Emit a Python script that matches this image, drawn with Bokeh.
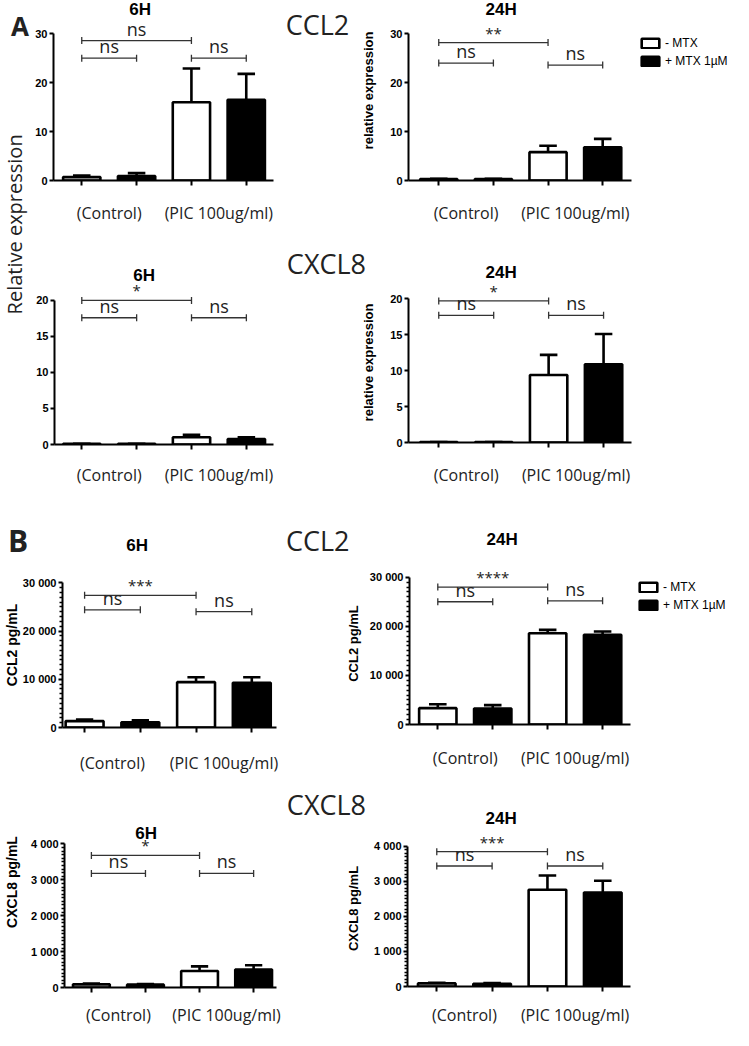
import math
from bokeh.plotting import figure
from bokeh.models import FixedTicker, Label, Legend, LegendItem, Range1d
from bokeh.layouts import row, column
from bokeh.core.properties import value
from bokeh.embed import file_html
from bokeh.resources import INLINE

# ---------------- data ----------------
groups = ["(Control)", "(PIC 100ug/ml)"]
series = ["- MTX", "+ MTX 1µM"]
times = ["6H", "24H"]
genes = ["CCL2", "CXCL8"]
panel_letters = ["A", "B"]
shared_ylabel = "Relative expression"

# significance brackets: compared bar indices (0,1 = Control -/+ ; 2,3 = PIC -/+)
sig_from = [0, 0, 2]
sig_to = [2, 1, 3]

# A - relative expression
a_ticks_ccl2 = [0, 10, 20, 30]
a_ticks_ccl2_lbl = ["0", "10", "20", "30"]
a_ticks_cxcl8 = [0, 5, 10, 15, 20]
a_ticks_cxcl8_lbl = ["0", "5", "10", "15", "20"]
a_ylabel = "relative expression"

a_ccl2_6h_minus = [0.7, 16.0]
a_ccl2_6h_minus_err = [0.3, 6.9]
a_ccl2_6h_plus = [0.9, 16.5]
a_ccl2_6h_plus_err = [0.6, 5.3]
a_ccl2_6h_sig_y = [28.6, 25.0, 25.0]
a_ccl2_6h_sig = ["ns", "ns", "ns"]

a_ccl2_24h_minus = [0.3, 5.8]
a_ccl2_24h_minus_err = [0.05, 1.3]
a_ccl2_24h_plus = [0.3, 6.8]
a_ccl2_24h_plus_err = [0.05, 1.7]
a_ccl2_24h_sig_y = [28.2, 24.0, 23.6]
a_ccl2_24h_sig = ["**", "ns", "ns"]

a_cxcl8_6h_minus = [0.08, 1.0]
a_cxcl8_6h_minus_err = [0.02, 0.35]
a_cxcl8_6h_plus = [0.08, 0.75]
a_cxcl8_6h_plus_err = [0.02, 0.25]
a_cxcl8_6h_sig_y = [20.0, 17.6, 17.6]
a_cxcl8_6h_sig = ["*", "ns", "ns"]

a_cxcl8_24h_minus = [0.05, 9.4]
a_cxcl8_24h_minus_err = [0.02, 2.8]
a_cxcl8_24h_plus = [0.05, 10.9]
a_cxcl8_24h_plus_err = [0.02, 4.2]
a_cxcl8_24h_sig_y = [19.7, 17.7, 17.7]
a_cxcl8_24h_sig = ["*", "ns", "ns"]

# B - protein (pg/mL)
b_ticks_ccl2 = [0, 10000, 20000, 30000]
b_ticks_ccl2_lbl = ["0", "10 000", "20 000", "30 000"]
b_minor_ccl2 = [v for v in range(0, 30001, 1000) if v % 10000]
b_ticks_cxcl8 = [0, 1000, 2000, 3000, 4000]
b_ticks_cxcl8_lbl = ["0", "1 000", "2 000", "3 000", "4 000"]
b_minor_cxcl8 = [v for v in range(0, 4001, 100) if v % 1000]
b_ylabel_ccl2 = "CCL2 pg/mL"
b_ylabel_cxcl8 = "CXCL8 pg/mL"

b_ccl2_6h_minus = [1330, 9400]
b_ccl2_6h_minus_err = [330, 1000]
b_ccl2_6h_plus = [1070, 9270]
b_ccl2_6h_plus_err = [400, 1130]
b_ccl2_6h_sig_y = [27400, 24400, 24000]
b_ccl2_6h_sig = ["***", "ns", "ns"]

b_ccl2_24h_minus = [3330, 18600]
b_ccl2_24h_minus_err = [800, 670]
b_ccl2_24h_plus = [3270, 18270]
b_ccl2_24h_plus_err = [670, 670]
b_ccl2_24h_sig_y = [28000, 25000, 25200]
b_ccl2_24h_sig = ["****", "ns", "ns"]

b_cxcl8_6h_minus = [88, 460]
b_cxcl8_6h_minus_err = [20, 130]
b_cxcl8_6h_plus = [80, 500]
b_cxcl8_6h_plus_err = [17, 120]
b_cxcl8_6h_sig_y = [3680, 3180, 3180]
b_cxcl8_6h_sig = ["*", "ns", "ns"]

b_cxcl8_24h_minus = [89, 2760]
b_cxcl8_24h_minus_err = [18, 410]
b_cxcl8_24h_plus = [80, 2680]
b_cxcl8_24h_plus_err = [18, 340]
b_cxcl8_24h_sig_y = [3850, 3440, 3440]
b_cxcl8_24h_sig = ["***", "ns", "ns"]

# ---------------- layout helpers (reference px -> page px) ----------------
KX = 731 / 749
KY = 1028 / 1046


def PX(v):
    return int(round(v * KX))


def PY(v):
    return int(round(v * KY))


TICK_FONT = "Liberation Sans"
CAT_FONT = "Open Sans"
BIG = "27px"


def no_align(fig):
    try:
        fig.frame_align = False
    except Exception:
        pass


def make_header(box, labels):
    """Empty frame that only carries free texts (positions in reference px)."""
    fx0, fx1, fy0, fy1 = box
    h = figure(width=PX(fx1) - PX(fx0), height=PY(fy1) - PY(fy0),
               x_range=Range1d(fx0, fx1), y_range=Range1d(-fy1, -fy0),
               x_axis_type=None, y_axis_type=None, output_backend="svg",
               toolbar_location=None, title=None, min_border=0)
    no_align(h)
    h.outline_line_color = None
    h.background_fill_color = None
    h.border_fill_color = None
    h.xgrid.visible = False
    h.ygrid.visible = False
    for (txt, X, Y, font, size, style, ang) in labels:
        h.add_layout(Label(x=X, y=-Y, text=txt, text_font=font, text_font_size=size,
                           text_font_style=style, angle=ang, text_align="center",
                           text_baseline="middle",
                           text_color="black" if font == TICK_FONT else "#222222"))
    return h


def make_panel(box, fl, fb, c0, dx, ppu, axis_end, ticks, tick_lbl, minor,
               minus, minus_err, plus, plus_err, sig_y, sig, title=None, title_xy=None,
               ylabel=None, ylabel_size="13px", ylabel_standoff=0, xstandoff=14,
               legend_xy=None, labels=()):
    fx0, fx1, fy0, fy1 = box
    W = PX(fx1) - PX(fx0)
    H = PY(fy1) - PY(fy0)
    bl = PX(fl) - PX(fx0)
    bb = PY(fy1) - PY(fb)
    x0 = (fl - c0) / dx
    x1 = (fx1 - c0) / dx
    y1 = (fb - fy0) / ppu

    def dxd(X):
        return x0 + (X - fl) / dx

    def dyd(Y):
        return (fb - Y) / ppu

    p = figure(width=W, height=H, x_range=Range1d(x0, x1), y_range=Range1d(0, y1),
               output_backend="svg", toolbar_location=None, title=None,
               min_border_left=bl, min_border_bottom=bb, min_border_top=0, min_border_right=0)
    no_align(p)
    p.xgrid.visible = False
    p.ygrid.visible = False
    p.outline_line_color = None
    p.background_fill_color = None
    p.border_fill_color = None

    n = len(groups)
    xm = [2 * i for i in range(n)]
    xp = [2 * i + 1 for i in range(n)]
    bw = 0.68
    r1 = p.vbar(x=xm, top=minus, bottom=0, width=bw, fill_color="white",
                line_color="black", line_width=2.6)
    r2 = p.vbar(x=xp, top=plus, bottom=0, width=bw, fill_color="black",
                line_color="black", line_width=2.6)
    cap = 9.0 / dx
    for xs, m, e in ((xm, minus, minus_err), (xp, plus, plus_err)):
        up = [a + b for a, b in zip(m, e)]
        p.segment(x0=xs, y0=m, x1=xs, y1=up, line_color="black", line_width=2.6)
        p.segment(x0=[x - cap for x in xs], y0=up, x1=[x + cap for x in xs], y1=up,
                  line_color="black", line_width=2.6)

    # significance brackets
    p.segment(x0=sig_from, y0=sig_y, x1=sig_to, y1=sig_y, line_color="#333333", line_width=1.3)
    p.scatter(x=sig_from + sig_to, y=sig_y + sig_y, marker="dash", angle=math.pi / 2,
              size=7, line_color="#333333", line_width=1.3)
    p.text(x=[(a + b) / 2 for a, b in zip(sig_from, sig_to)], y=sig_y, text=sig,
           text_font=value(CAT_FONT),
           text_font_size=["18px" if s == "ns" else "15px" for s in sig],
           text_align="center", text_baseline="bottom", y_offset=0, text_color="#222222")

    if title is not None:
        p.add_layout(Label(x=dxd(title_xy[0]), y=dyd(title_xy[1]), text=title,
                           text_font=TICK_FONT, text_font_size="17px", text_font_style="bold",
                           text_align="center", text_baseline="middle", text_color="black"))
    for (txt, X, Y, size, style) in labels:
        p.add_layout(Label(x=dxd(X), y=dyd(Y), text=txt, text_font=CAT_FONT,
                           text_font_size=size, text_font_style=style,
                           text_align="center", text_baseline="middle", text_color="#222222"))

    # x axis
    xa = p.xaxis[0]
    cat_pos = [2 * i + 0.5 for i in range(n)]
    xa.ticker = FixedTicker(ticks=cat_pos, minor_ticks=xm + xp)
    xa.major_label_overrides = {t: g for t, g in zip(cat_pos, groups)}
    xa.bounds = (x0, (axis_end - c0) / dx)
    xa.axis_line_width = 2
    xa.axis_line_color = "black"
    xa.major_tick_out = 0
    xa.major_tick_in = 0
    xa.major_tick_line_color = None
    xa.minor_tick_out = 5
    xa.minor_tick_in = 0
    xa.minor_tick_line_width = 2
    xa.minor_tick_line_color = "black"
    xa.major_label_standoff = xstandoff
    xa.major_label_text_font = CAT_FONT
    xa.major_label_text_font_size = "16px"
    xa.major_label_text_color = "#222222"

    # y axis
    ya = p.yaxis[0]
    ya.ticker = FixedTicker(ticks=ticks, minor_ticks=minor)
    ya.major_label_overrides = {t: l for t, l in zip(ticks, tick_lbl)}
    ya.bounds = (0, ticks[-1])
    ya.axis_line_width = 2
    ya.axis_line_color = "black"
    ya.major_tick_out = 4
    ya.major_tick_in = 0
    ya.major_tick_line_width = 2
    ya.minor_tick_out = 3
    ya.minor_tick_in = 0
    ya.minor_tick_line_width = 1.3
    ya.minor_tick_line_color = "black"
    ya.major_label_standoff = 2
    ya.major_label_text_font = TICK_FONT
    ya.major_label_text_font_style = "bold"
    ya.major_label_text_font_size = "11px"
    ya.major_label_text_color = "black"
    if ylabel:
        ya.axis_label = ylabel
        ya.axis_label_text_font = TICK_FONT
        ya.axis_label_text_font_style = "bold"
        ya.axis_label_text_font_size = ylabel_size
        ya.axis_label_text_color = "black"
        ya.axis_label_standoff = ylabel_standoff

    if legend_xy is not None:
        vx = int(round((legend_xy[0] - fl) * KX))
        vy = int(round((fb - legend_xy[1]) * KY))
        leg = Legend(items=[LegendItem(label=value(series[0]), renderers=[r1]),
                            LegendItem(label=value(series[1]), renderers=[r2])],
                     location=(vx, vy), orientation="vertical",
                     border_line_color=None, background_fill_alpha=0,
                     padding=0, margin=0, spacing=4, glyph_width=22, glyph_height=12,
                     label_height=14, label_standoff=4,
                     label_text_font=TICK_FONT, label_text_font_size="12px",
                     label_text_color="black")
        p.add_layout(leg)
    return p


no_minor = []

# ---- row 1 : A / CCL2 ----
A1 = make_panel((32, 362, 0, 230), 54, 184, 83, 56.3, 5.0, 280,
                a_ticks_ccl2, a_ticks_ccl2_lbl, no_minor,
                a_ccl2_6h_minus, a_ccl2_6h_minus_err, a_ccl2_6h_plus, a_ccl2_6h_plus_err,
                a_ccl2_6h_sig_y, a_ccl2_6h_sig, title=times[0], title_xy=(143, 9), xstandoff=16,
                labels=[(genes[0], 325, 25, BIG, "normal")])
A2 = make_panel((362, 749, 0, 230), 418, 184, 449, 56.0, 5.0, 647,
                a_ticks_ccl2, a_ticks_ccl2_lbl, no_minor,
                a_ccl2_24h_minus, a_ccl2_24h_minus_err, a_ccl2_24h_plus, a_ccl2_24h_plus_err,
                a_ccl2_24h_sig_y, a_ccl2_24h_sig, title=times[1], title_xy=(513, 9),
                ylabel=a_ylabel, ylabel_standoff=11, xstandoff=16, legend_xy=(655, 70))

# ---- row 2 : A / CXCL8 ----
A3 = make_panel((32, 290, 230, 497), 55, 457, 83, 56.3, 7.5, 280,
                a_ticks_cxcl8, a_ticks_cxcl8_lbl, no_minor,
                a_cxcl8_6h_minus, a_cxcl8_6h_minus_err, a_cxcl8_6h_plus, a_cxcl8_6h_plus_err,
                a_cxcl8_6h_sig_y, a_cxcl8_6h_sig, title=times[0], title_xy=(147, 281), xstandoff=14)
H2 = make_header((290, 749, 230, 287),
                 [(genes[1], 334, 268, CAT_FONT, BIG, "normal", 0),
                  (times[1], 513, 277, TICK_FONT, "17px", "bold", 0)])
A4 = make_panel((290, 749, 287, 497), 418, 454, 449, 56.3, 7.5, 647,
                a_ticks_cxcl8, a_ticks_cxcl8_lbl, no_minor,
                a_cxcl8_24h_minus, a_cxcl8_24h_minus_err, a_cxcl8_24h_plus, a_cxcl8_24h_plus_err,
                a_cxcl8_24h_sig_y, a_cxcl8_24h_sig,
                ylabel=a_ylabel, ylabel_standoff=11, xstandoff=16)

# left strip for panel A: letter and shared y label
stripA = make_header((0, 32, 0, 497),
                     [(panel_letters[0], 20, 26, CAT_FONT, "26px", "bold", 0),
                      (shared_ylabel, 14, 228, CAT_FONT, "20px", "normal", math.pi / 2)])

# ---- row 3 : B / CCL2 ----
H3 = make_header((0, 749, 497, 572),
                 [(panel_letters[1], 18, 550, CAT_FONT, "30px", "bold", 0),
                  (times[0], 140, 555, TICK_FONT, "17px", "bold", 0),
                  (genes[0], 325, 550, CAT_FONT, BIG, "normal", 0),
                  (times[1], 514, 549, TICK_FONT, "17px", "bold", 0)])
B1 = make_panel((0, 290, 572, 790), 60, 743, 83, 58.0, 150 / 30000, 283,
                b_ticks_ccl2, b_ticks_ccl2_lbl, b_minor_ccl2,
                b_ccl2_6h_minus, b_ccl2_6h_minus_err, b_ccl2_6h_plus, b_ccl2_6h_plus_err,
                b_ccl2_6h_sig_y, b_ccl2_6h_sig,
                ylabel=b_ylabel_ccl2, ylabel_size="14px", ylabel_standoff=0, xstandoff=19)
B2 = make_panel((290, 749, 572, 790), 419, 737, 448, 56.3, 150 / 30000, 646,
                b_ticks_ccl2, b_ticks_ccl2_lbl, b_minor_ccl2,
                b_ccl2_24h_minus, b_ccl2_24h_minus_err, b_ccl2_24h_plus, b_ccl2_24h_plus_err,
                b_ccl2_24h_sig_y, b_ccl2_24h_sig,
                ylabel=b_ylabel_ccl2, ylabel_standoff=6, xstandoff=17, legend_xy=(653, 623))

# ---- row 4 : B / CXCL8 ----
B3 = make_panel((0, 290, 790, 1046), 62, 1012, 90, 56.3, 151 / 4000, 283,
                b_ticks_cxcl8, b_ticks_cxcl8_lbl, b_minor_cxcl8,
                b_cxcl8_6h_minus, b_cxcl8_6h_minus_err, b_cxcl8_6h_plus, b_cxcl8_6h_plus_err,
                b_cxcl8_6h_sig_y, b_cxcl8_6h_sig, title=times[0], title_xy=(147, 850),
                ylabel=b_ylabel_cxcl8, ylabel_size="14px", ylabel_standoff=8, xstandoff=11)
H4 = make_header((290, 749, 790, 845),
                 [(genes[1], 334, 819, CAT_FONT, BIG, "normal", 0),
                  (times[1], 513, 833, TICK_FONT, "17px", "bold", 0)])
B4 = make_panel((290, 749, 845, 1046), 417, 1012, 447, 56.7, 150 / 4000, 645,
                b_ticks_cxcl8, b_ticks_cxcl8_lbl, b_minor_cxcl8,
                b_cxcl8_24h_minus, b_cxcl8_24h_minus_err, b_cxcl8_24h_plus, b_cxcl8_24h_plus_err,
                b_cxcl8_24h_sig_y, b_cxcl8_24h_sig,
                ylabel=b_ylabel_cxcl8, ylabel_standoff=10, xstandoff=12)

layout = column(
    row(stripA, column(row(A1, A2), row(A3, column(H2, A4)))),
    column(H3, row(B1, B2)),
    row(B3, column(H4, B4)),
)

open("out.html", "w").write(file_html(layout, INLINE))
